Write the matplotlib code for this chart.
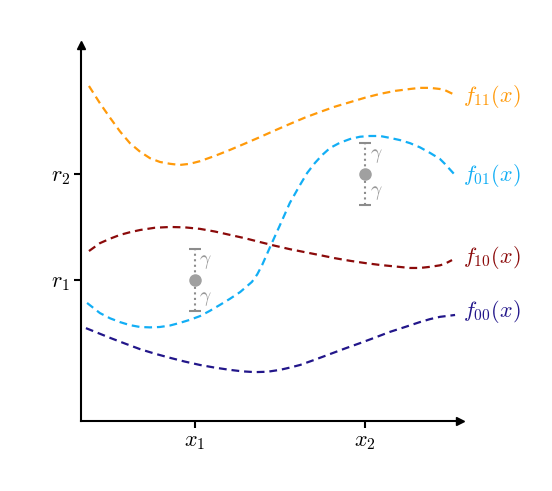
import numpy as np
import matplotlib
matplotlib.use('Agg')
import matplotlib.pyplot as plt

plt.rcParams['mathtext.fontset'] = 'cm'

# curves (x in [0, 10], y in [0, 10])
f11_x = [0.21, 0.50, 0.77, 1.03, 1.29, 1.56, 1.82, 2.08, 2.35, 2.61, 2.87, 3.14, 3.53, 3.93, 4.33,
         4.72, 5.12, 5.51, 5.91, 6.31, 6.70, 7.10, 7.50, 7.89, 8.29, 8.68, 8.94, 9.21, 9.47, 9.60, 9.87]
f11_y = [8.91, 8.45, 8.06, 7.70, 7.39, 7.16, 6.99, 6.89, 6.84, 6.81, 6.84, 6.91, 7.05, 7.21, 7.38,
         7.55, 7.73, 7.90, 8.07, 8.22, 8.36, 8.48, 8.60, 8.70, 8.78, 8.83, 8.86, 8.86, 8.83, 8.80, 8.67]

f01_x = [0.16, 0.50, 0.77, 1.03, 1.29, 1.56, 1.82, 2.08, 2.35, 2.61, 2.87, 3.14, 3.40, 3.67, 3.93,
         4.20, 4.51, 4.65, 4.78, 4.99, 5.25, 5.51, 5.78, 5.97, 6.17, 6.37, 6.57, 6.83, 7.10, 7.36,
         7.62, 7.89, 8.15, 8.42, 8.68, 8.94, 9.21, 9.47, 9.60, 9.87]
f01_y = [3.14, 2.87, 2.73, 2.63, 2.55, 2.50, 2.49, 2.50, 2.54, 2.61, 2.69, 2.79, 2.93, 3.09, 3.25,
         3.43, 3.70, 3.90, 4.15, 4.63, 5.21, 5.80, 6.28, 6.60, 6.86, 7.08, 7.26, 7.40, 7.50, 7.56,
         7.58, 7.58, 7.53, 7.47, 7.39, 7.28, 7.13, 6.97, 6.84, 6.54]

f10_x = [0.21, 0.50, 0.77, 1.03, 1.29, 1.56, 1.95, 2.35, 2.74, 3.14, 3.53, 3.93, 4.33, 4.72, 5.12,
         5.51, 5.91, 6.31, 6.70, 7.10, 7.50, 7.89, 8.29, 8.68, 8.94, 9.21, 9.47, 9.60, 9.79]
f10_y = [4.52, 4.73, 4.85, 4.95, 5.02, 5.08, 5.14, 5.16, 5.15, 5.11, 5.04, 4.95, 4.86, 4.76, 4.66,
         4.57, 4.49, 4.41, 4.33, 4.26, 4.20, 4.15, 4.11, 4.07, 4.07, 4.10, 4.14, 4.18, 4.28]

f00_x = [0.13, 0.45, 0.77, 1.16, 1.56, 1.95, 2.35, 2.74, 3.14, 3.53, 3.93, 4.26, 4.59, 4.92, 5.25,
         5.51, 5.78, 6.17, 6.57, 6.97, 7.36, 7.76, 8.15, 8.55, 8.94, 9.21, 9.47, 9.87]
f00_y = [2.47, 2.34, 2.21, 2.06, 1.91, 1.79, 1.68, 1.58, 1.49, 1.42, 1.36, 1.32, 1.30, 1.31, 1.36,
         1.42, 1.49, 1.63, 1.78, 1.93, 2.07, 2.22, 2.37, 2.50, 2.63, 2.71, 2.77, 2.82]

curve_names = ['$f_{11}(x)$', '$f_{01}(x)$', '$f_{10}(x)$', '$f_{00}(x)$']
curve_label_y = [8.62, 6.52, 4.34, 2.90]

xticks = [3.0, 7.5]
xtick_labels = ['$x_1$', '$x_2$']
yticks = [3.75, 6.57]
ytick_labels = ['$r_1$', '$r_2$']

pts_x = [3.0, 7.5]
pts_y = [3.75, 6.57]
gamma = 0.82

colors = ['#FF9A0A', '#12AEF5', '#8B0A0A', '#22168A']

fig = plt.figure(figsize=(5.52, 4.91), dpi=100)
ax = fig.add_axes([81 / 552, 70 / 491, 379 / 552, 376 / 491])

curves = [(f11_x, f11_y), (f01_x, f01_y), (f10_x, f10_y), (f00_x, f00_y)]
for (cx, cy), c, name, ly in zip(curves, colors, curve_names, curve_label_y):
    ax.plot(cx, cy, color=c, lw=1.6, ls=(0, (3.5, 2.2)))
    ax.text(10.08, ly, name, color=c, fontsize=16, va='center', ha='left')

# points with +-gamma bars
eb = ax.errorbar(pts_x, pts_y, yerr=gamma, fmt='o', color='#A0A0A0', ms=8,
                 ecolor='#8C8C8C', elinewidth=1.5, capsize=4, capthick=1.5, zorder=5)
eb[2][0].set_linestyle(':')
for px, py in zip(pts_x, pts_y):
    ax.text(px + 0.12, py + 0.48, r'$\gamma$', color='#999999', fontsize=14, va='center')
    ax.text(px + 0.12, py - 0.48, r'$\gamma$', color='#999999', fontsize=14, va='center')

ax.set_xlim(0, 10)
ax.set_ylim(0, 10)
ax.set_xticks(xticks)
ax.set_xticklabels(xtick_labels, fontsize=16)
ax.set_yticks(yticks)
ax.set_yticklabels(ytick_labels, fontsize=16)
ax.tick_params(length=5, width=1.5, pad=3)
for s in ['top', 'right']:
    ax.spines[s].set_visible(False)
for s in ['left', 'bottom']:
    ax.spines[s].set_linewidth(1.5)

# arrow heads on the axes
ax.plot(1, 0, '>k', ms=6, transform=ax.transAxes, clip_on=False)
ax.plot(0, 1, '^k', ms=6, transform=ax.transAxes, clip_on=False)

fig.savefig('out.png', dpi=100)
